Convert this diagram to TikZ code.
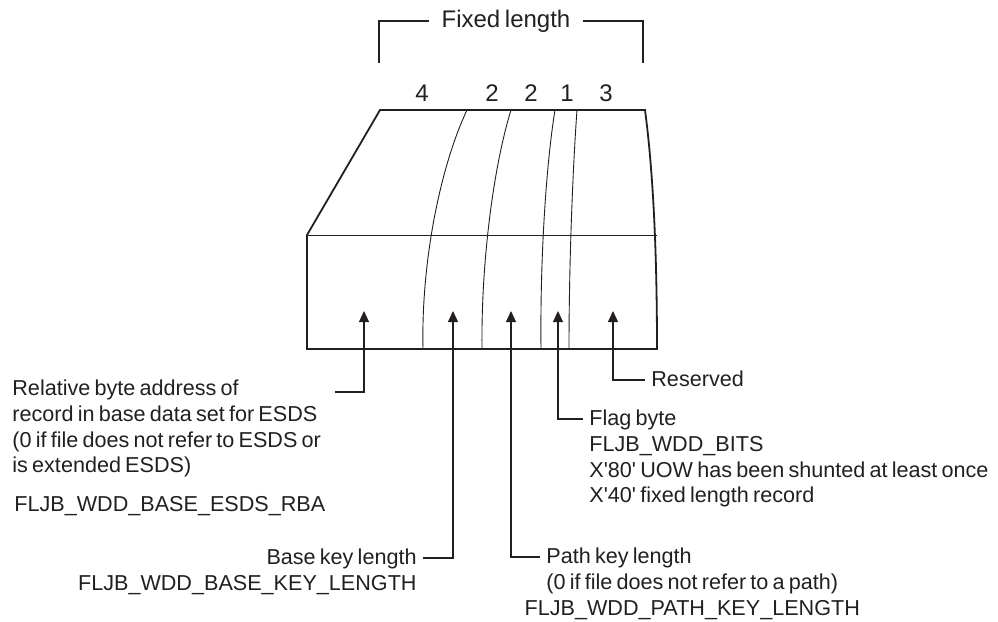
\documentclass[tikz,border=0pt]{standalone}
\usepackage{fontspec}
\setmainfont{Liberation Sans}[WordSpace=0.7]
\usepackage{tikz}
\usetikzlibrary{arrows.meta,positioning}
\definecolor{ink}{HTML}{231F20}
\tikzset{
  outline/.style={draw=ink,line width=0.9pt},
  divider/.style={draw=ink,line width=0.45pt},
  leader/.style={draw=ink,line width=0.6pt,-{Triangle[length=5.5pt,width=5pt]}},
  bracket/.style={draw=ink,line width=0.6pt},
  fieldtext/.style={font=\fontsize{10.8pt}{12.5pt}\selectfont,text=ink,inner xsep=3pt,inner ysep=0pt,text height=9.5pt,text depth=3pt},
  sizetext/.style={font=\fontsize{12pt}{14pt}\selectfont,text=ink,inner sep=0pt}
}

\begin{document}
\begin{tikzpicture}[x=0.5pt,y=-0.5pt]
  \useasboundingbox (0,0) rectangle (998,622);

  % Fixed length bracket
  \node[sizetext,inner xsep=6pt] (fixed) at (506,21) {Fixed length};
  \coordinate (fixedleft) at (379,63);
  \coordinate (fixedright) at (643,63);
  \draw[bracket] (fixed.west) -| (fixedleft);
  \draw[bracket] (fixed.east) -| (fixedright);

  % Field lengths
  \foreach \x/\n [count=\i] in {422/4,492/2,531/2,567/1,606/3}
    \node[sizetext] (len\i) at (\x,93) {\n};

  % Record box
  \draw[outline] (307,235) -- (380,110) -- (645,110)
    .. controls (653,170) and (657,250) .. (657,349) -- (307,349) -- cycle;
  \draw[divider] (307,235) -- (657,235);
  \draw[divider] (467,110) .. controls (441,165) and (421,260) .. (423,349);
  \draw[divider] (511,110) .. controls (494,165) and (481,260) .. (482,349);
  \draw[divider] (555,110) .. controls (546,165) and (540,260) .. (541,349);
  \draw[divider] (577,110) .. controls (573,165) and (569,260) .. (569,349);

  % Arrow tips inside the box
  \coordinate (rbatip) at (364,311);
  \coordinate (basetip) at (453,311);
  \coordinate (pathtip) at (511,311);
  \coordinate (flagtip) at (558,311);
  \coordinate (restip) at (613,311);

  % Relative byte address
  \node[fieldtext,anchor=west] (rba1) at (6,389) {Relative byte address of};
  \node[fieldtext,below=0pt of rba1.south west,anchor=north west] (rba2) {record in base data set for ESDS};
  \node[fieldtext,below=0pt of rba2.south west,anchor=north west] (rba3) {(0 if file does not refer to ESDS or};
  \node[fieldtext,below=0pt of rba3.south west,anchor=north west] (rba4) {is extended ESDS)};
  \node[fieldtext,anchor=west] (rbaname) at (8,505) {FLJB\_WDD\_BASE\_ESDS\_RBA};
  \coordinate (rbaend) at (335,392);
  \draw[leader] (rbaend) -| (rbatip);

  % Base key length
  \node[fieldtext,anchor=east] (basekey) at (423,558) {Base key length};
  \node[fieldtext,below=0pt of basekey.south east,anchor=north east] (basename) {FLJB\_WDD\_BASE\_KEY\_LENGTH};
  \draw[leader] (basekey.east) -| (basetip);

  % Path key length
  \node[fieldtext,anchor=west] (pathkey) at (540,557) {Path key length};
  \node[fieldtext,below=0pt of pathkey.south west,anchor=north west] (pathnote) {(0 if file does not refer to a path)};
  \node[fieldtext,below=0pt of pathnote] (pathname) {FLJB\_WDD\_PATH\_KEY\_LENGTH};
  \draw[leader] (pathkey.west) -| (pathtip);

  % Flag byte
  \node[fieldtext,anchor=west] (flag) at (583,419) {Flag byte};
  \node[fieldtext,below=0pt of flag.south west,anchor=north west] (flagbits) {FLJB\_WDD\_BITS};
  \node[fieldtext,below=0pt of flagbits.south west,anchor=north west] (flagshunt) {X\textquotesingle 80\textquotesingle{} UOW has been shunted at least once};
  \node[fieldtext,below=0pt of flagshunt.south west,anchor=north west] (flagfixed) {X\textquotesingle 40\textquotesingle{} fixed length record};
  \draw[leader] (flag.west) -| (flagtip);

  % Reserved
  \node[fieldtext,anchor=west] (reserved) at (645,380) {Reserved};
  \draw[leader] (reserved.west) -| (restip);
\end{tikzpicture}
\end{document}
